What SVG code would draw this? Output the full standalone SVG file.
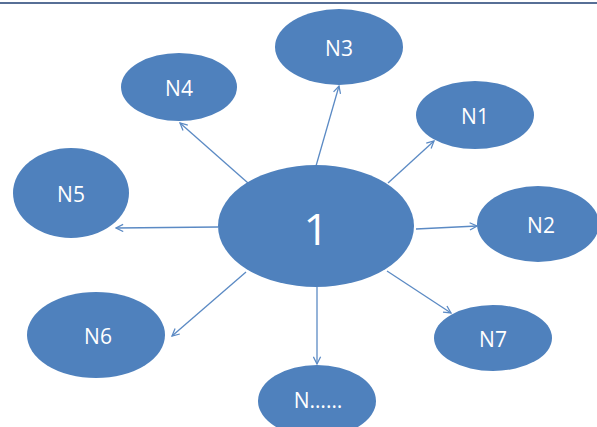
<svg xmlns="http://www.w3.org/2000/svg" width="597" height="427" viewBox="0 0 597 427">
  <style>
    .node { fill: #4f81bd; }
    .label { fill: #ffffff; font-family: "Open Sans", "Liberation Sans", sans-serif; font-size: 21px; text-anchor: middle; dominant-baseline: central; }
    .big { font-size: 44px; }
    .link { stroke: #5b8ac4; stroke-width: 1.3; fill: none; marker-end: url(#arrow); }
  </style>
  <defs>
    <marker id="arrow" viewBox="0 0 10 10" refX="9" refY="5" markerWidth="9" markerHeight="9" markerUnits="userSpaceOnUse" orient="auto">
      <path d="M1,1 L9,5 L1,9" fill="none" stroke="#5b8ac4" stroke-width="1.4"/>
    </marker>
  </defs>
  <rect width="597" height="427" fill="#ffffff"/>
  <line x1="0" y1="3" x2="597" y2="3" stroke="#1f3f73" stroke-width="1.5"/>

  <g id="connectors">
    <line class="link" x1="316" y1="166" x2="339" y2="86"/>
    <line class="link" x1="248" y1="183" x2="180" y2="123"/>
    <line class="link" x1="388" y1="183" x2="434" y2="141"/>
    <line class="link" x1="218" y1="227" x2="116" y2="228"/>
    <line class="link" x1="416" y1="229" x2="477" y2="226"/>
    <line class="link" x1="246" y1="272" x2="172" y2="336"/>
    <line class="link" x1="387" y1="271" x2="451" y2="313"/>
    <line class="link" x1="317" y1="287" x2="317" y2="364"/>
  </g>

  <g id="node-1">
    <ellipse class="node" cx="316" cy="226" rx="98" ry="61"/>
    <text class="label big" x="316" y="228">1</text>
  </g>
  <g id="node-n3">
    <ellipse class="node" cx="339" cy="47" rx="64" ry="38"/>
    <text class="label" x="339" y="48">N3</text>
  </g>
  <g id="node-n4">
    <ellipse class="node" cx="179" cy="87" rx="58" ry="34"/>
    <text class="label" x="179" y="88">N4</text>
  </g>
  <g id="node-n1">
    <ellipse class="node" cx="475" cy="115" rx="59" ry="34"/>
    <text class="label" x="475" y="116">N1</text>
  </g>
  <g id="node-n5">
    <ellipse class="node" cx="71" cy="193" rx="58" ry="45"/>
    <text class="label" x="71" y="194">N5</text>
  </g>
  <g id="node-n2">
    <ellipse class="node" cx="538" cy="224" rx="61" ry="38"/>
    <text class="label" x="541" y="225">N2</text>
  </g>
  <g id="node-n6">
    <ellipse class="node" cx="96" cy="335" rx="69" ry="43"/>
    <text class="label" x="98" y="336">N6</text>
  </g>
  <g id="node-n7">
    <ellipse class="node" cx="493" cy="338" rx="59" ry="33"/>
    <text class="label" x="493" y="339">N7</text>
  </g>
  <g id="node-n-more">
    <ellipse class="node" cx="317" cy="401" rx="59" ry="36"/>
    <text class="label" x="318" y="400">N……</text>
  </g>
</svg>
